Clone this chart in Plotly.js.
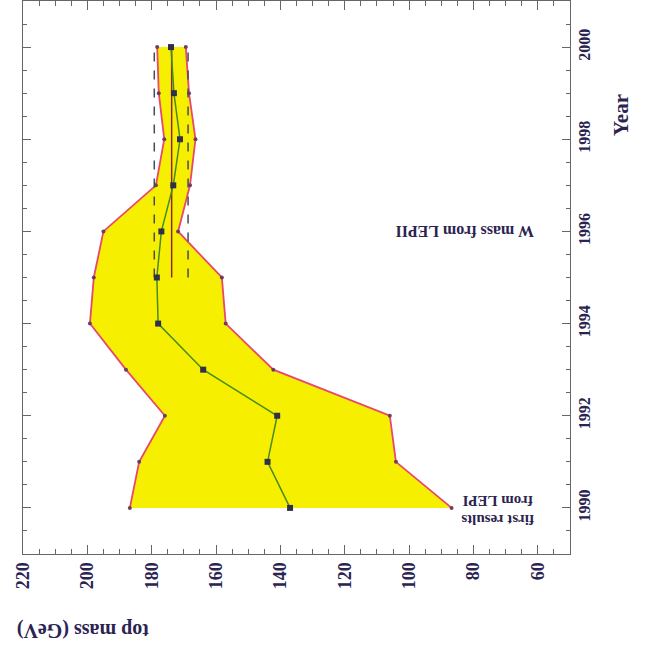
<!DOCTYPE html>
<html>
<head>
<meta charset="utf-8">
<script src="https://cdn.plot.ly/plotly-3.0.1.min.js"></script>
<style>html,body{margin:0;padding:0;background:#fff;}#chart{width:648px;height:647px;}</style>
</head>
<body>
<div id="chart"></div>
<script>
// Data
const years = [1990, 1991, 1992, 1993, 1994, 1995, 1996, 1997, 1998, 1999, 2000];
const massHigh = [186.8, 183.9, 175.9, 188.0, 199.2, 198.0, 195.0, 178.7, 176.1, 177.8, 178.3];
const massLow = [86.8, 104.1, 106.0, 142.2, 157.0, 158.2, 171.8, 168.1, 166.4, 168.4, 169.4];
const massCentral = [137.0, 144.0, 141.0, 164.0, 178.0, 178.4, 177.0, 173.3, 171.2, 173.1, 174.0];
const wYears = [1995, 2000];
const wCentral = [173.8, 173.8];
const wHigh = [179.2, 179.2];
const wLow = [168.7, 168.7];

const textColor = '#2b2350';
const serif = 'Liberation Serif, Times New Roman, serif';

const bandX = massHigh.concat(massLow.slice().reverse());
const bandY = years.concat(years.slice().reverse());

const traces = [
  {x: bandX, y: bandY, mode: 'lines', fill: 'toself', fillcolor: '#f6f000',
   line: {width: 0, color: 'rgba(0,0,0,0)'}, hoverinfo: 'skip'},
  {x: massHigh, y: years, mode: 'lines+markers', line: {color: '#e8486c', width: 1.8},
   marker: {size: 4, color: '#6a4060'}},
  {x: massLow, y: years, mode: 'lines+markers', line: {color: '#e8486c', width: 1.8},
   marker: {size: 4, color: '#6a4060'}},
  {x: wHigh, y: wYears, mode: 'lines', line: {color: '#4a4a5a', width: 1.5, dash: 'dash'}},
  {x: wLow, y: wYears, mode: 'lines', line: {color: '#4a4a5a', width: 1.5, dash: 'dash'}},
  {x: wCentral, y: wYears, mode: 'lines', line: {color: '#8a2a30', width: 1.5}},
  {x: massCentral, y: years, mode: 'lines+markers', line: {color: '#4a8a1c', width: 1.5},
   marker: {symbol: 'square', size: 6, color: '#30304a'}}
];

function ann(text, angle, px, py, size) {
  return {text: text, textangle: angle, xref: 'paper', yref: 'paper',
    x: (px - 23) / 547, y: (554 - py) / 553, xanchor: 'center', yanchor: 'middle',
    showarrow: false, font: {family: serif, size: size, color: textColor}};
}

const layout = {
  width: 648, height: 647,
  margin: {l: 23, r: 78, t: 1, b: 93, pad: 0},
  paper_bgcolor: '#fff', plot_bgcolor: '#fff',
  showlegend: false,
  xaxis: {
    range: [220, 50], tick0: 60, dtick: 20, tickangle: -90,
    ticks: 'inside', ticklen: 9, tickcolor: '#666', tickwidth: 1,
    minor: {dtick: 5, ticks: 'inside', ticklen: 5, tickcolor: '#666'},
    showline: true, linecolor: '#666', linewidth: 1, mirror: 'ticks',
    showgrid: false, zeroline: false,
    tickfont: {family: serif, size: 18, color: textColor, weight: 'bold'}
  },
  yaxis: {
    side: 'right', range: [1989, 2001], tick0: 1990, dtick: 2, tickangle: -90,
    ticks: 'inside', ticklen: 8, tickcolor: '#666', tickwidth: 1,
    minor: {dtick: 0.5, ticks: 'inside', ticklen: 4, tickcolor: '#666'},
    showline: true, linecolor: '#666', linewidth: 1, mirror: 'ticks',
    showgrid: false, zeroline: false, ticklabelstandoff: 0,
    tickfont: {family: serif, size: 16, color: textColor, weight: 'bold'}
  },
  annotations: [
    ann('<b>top mass (GeV)</b>', 180, 83, 631, 20),
    ann('<b>Year</b>', -90, 621, 115, 21),
    ann('<b>W mass from LEPII</b>', 180, 465, 232, 16),
    ann('<b>first results<br>from LEPI</b>', 180, 498, 510, 15)
  ]
};

Plotly.newPlot('chart', traces, layout, {staticPlot: true, displayModeBar: false});
</script>
</body>
</html>
